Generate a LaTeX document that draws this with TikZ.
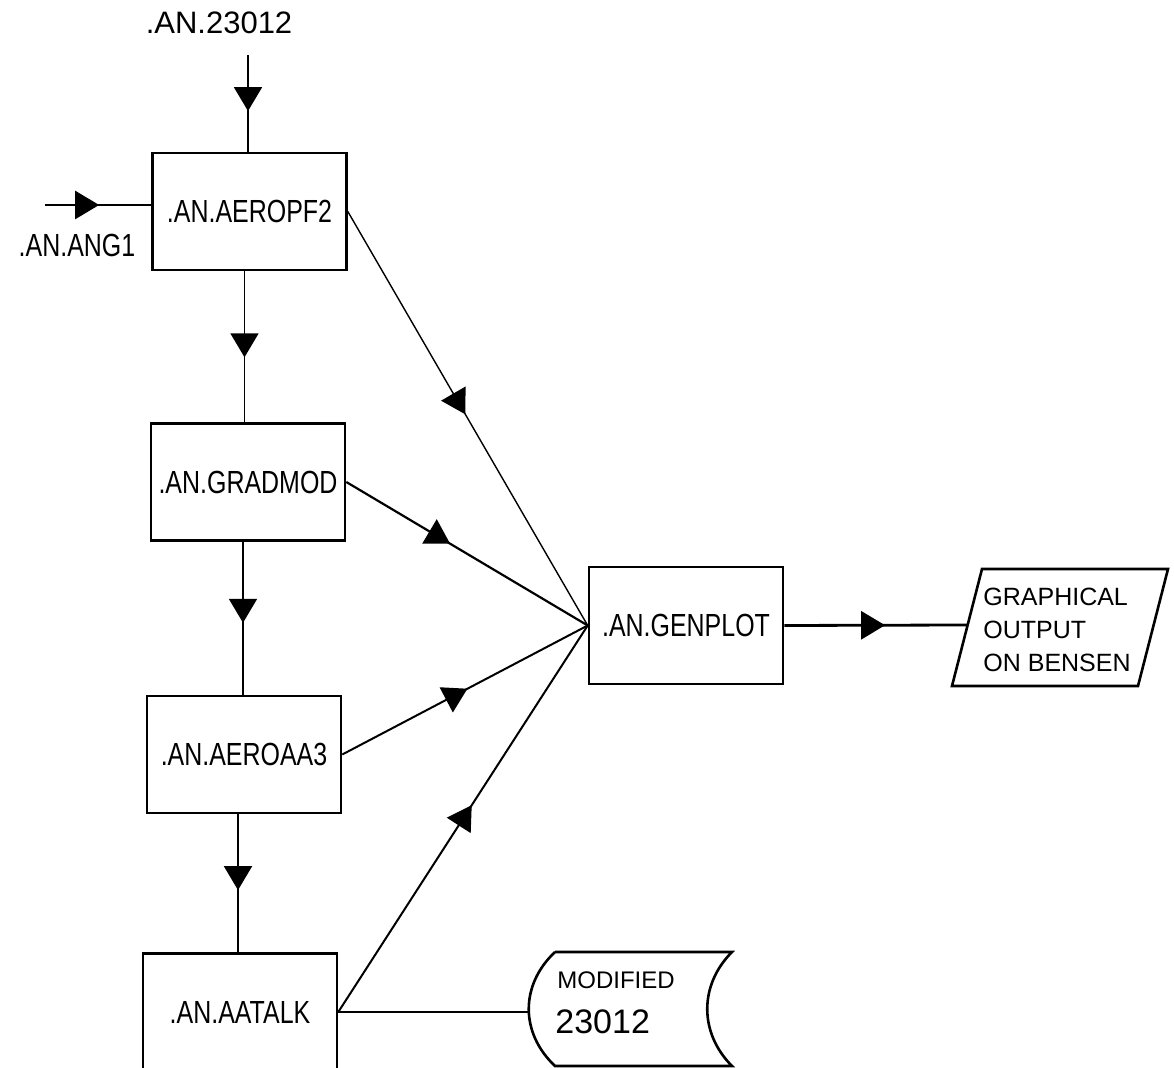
\documentclass[tikz,border=0pt]{standalone}
\usepackage{fontspec}
\setmainfont{Liberation Sans}
\newfontfamily\condfont[FakeStretch=0.78]{Liberation Sans}
\usetikzlibrary{arrows.meta,decorations.markings}
\begin{document}
\begin{tikzpicture}[x=0.5pt,y=-0.5pt,
  box/.style={draw, line width=1.3pt, rectangle, minimum width=97pt, minimum height=58.5pt, inner sep=0pt, font=\condfont\fontsize{16}{18}\selectfont},
  midarrow/.style={postaction={decorate}, decoration={markings, mark=at position #1 with {\arrow{Triangle[length=12pt,width=14pt]}}}},
  conn/.style={line width=0.9pt},
  lbl/.style={inner sep=0pt, font=\fontsize{15.5}{18}\selectfont},
  condlbl/.style={inner sep=0pt, font=\condfont\fontsize{16}{18}\selectfont},
  shapeline/.style={line width=1.3pt}]
\path[use as bounding box, fill=white] (0,0) rectangle (1174,1068);
\clip (0,0) rectangle (1174,1068);

% boxes
\node[box] (aeropf2) at (249.5,211.5) {.AN.AEROPF2};
\node[box] (gradmod) at (248,482) {.AN.GRADMOD};
\node[box] (aeroaa3) at (244,754.5) {.AN.AEROAA3};
\node[box] (aatalk) at (240,1012) {.AN.AATALK};
\node[box] (genplot) at (686,625.5) {.AN.GENPLOT};

% input labels
\node[lbl] (in23012) at (219,23) {.AN.23012};
\node[condlbl] (inang) at (77,245) {.AN.ANG1};
\coordinate (topin) at (248,55);
\coordinate (angin) at (45,205);

% output parallelogram
\draw[shapeline] (982,569) -- (1168,569) -- (1138,686) -- (952,686) -- cycle;
\coordinate (outL) at (967.6,625);
\node[inner sep=0pt, anchor=west, align=left, font=\fontsize{12.5}{16.5}\selectfont] (outtxt) at (983,630) {GRAPHICAL\\OUTPUT\\ON BENSEN};

% modified storage
\draw[shapeline] (555,952) -- (732,952)
  .. controls (699,985) and (699,1033) .. (732,1066)
  -- (555,1066)
  .. controls (520,1033) and (520,985) .. (555,952);
\coordinate (modL) at (529,1012);
\node[inner sep=0pt, anchor=west, font=\fontsize{12}{14}\selectfont] (modtxt1) at (557,980) {MODIFIED};
\node[inner sep=0pt, anchor=west, font=\fontsize{17}{18}\selectfont] (modtxt2) at (555,1022) {23012};

% connectors
\draw[conn, line width=1pt, midarrow=0.58] (topin) -- (topin |- aeropf2.north);
\draw[conn, line width=1.2pt, midarrow=0.51] (angin) -- (angin -| aeropf2.west);
\draw[conn, midarrow=0.57] ([xshift=-2.5pt]aeropf2.south) -- ([xshift=-2.5pt]aeropf2.south |- gradmod.north);
\draw[conn, midarrow=0.53] ([xshift=-2.5pt]gradmod.south) -- ([xshift=-2.5pt]gradmod.south |- aeroaa3.north);
\draw[conn, midarrow=0.55] ([xshift=-3pt]aeroaa3.south) -- ([xshift=-3pt]aeroaa3.south |- aatalk.north);
\draw[conn, line width=0.7pt, midarrow=0.49] (aeropf2.east) -- (genplot.west);
\draw[conn, line width=1.1pt, midarrow=0.43] (gradmod.east) -- (genplot.west);
\draw[conn, line width=1pt, midarrow=0.51] (aeroaa3.east) -- (genplot.west);
\draw[conn, line width=1pt, midarrow=0.535] (aatalk.east) -- (genplot.west);
\draw[conn, line width=1.4pt, midarrow=0.55] (genplot.east) -- (outL);
\draw[conn, line width=1.4pt] (aatalk.east) -- (modL);
\end{tikzpicture}
\end{document}
